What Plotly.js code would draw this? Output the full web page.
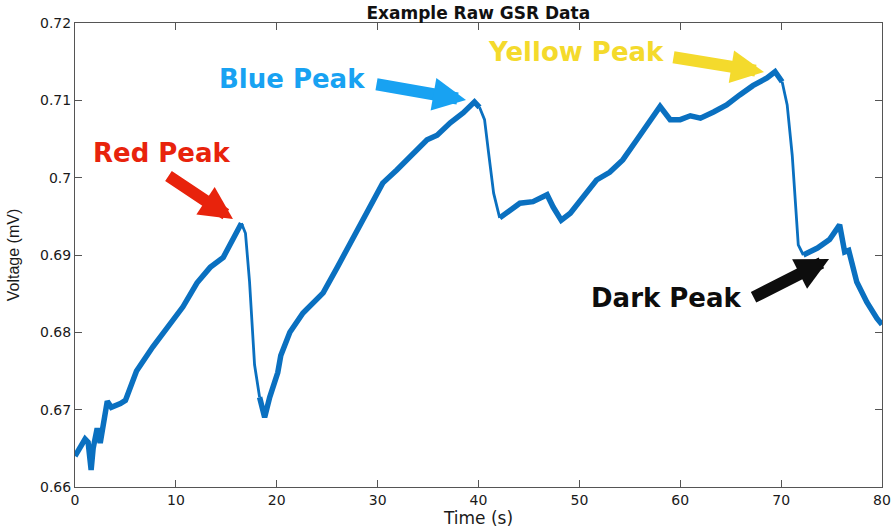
<!DOCTYPE html>
<html><head><meta charset="utf-8">
<script src="https://cdn.plot.ly/plotly-3.0.1.min.js"></script>
<style>html,body{margin:0;padding:0;background:#fff}</style>
</head><body><div id="chart" style="width:894px;height:529px"></div>
<script>
const timeS = [0, 0.5, 1.0, 1.3, 1.6, 1.8, 2.2, 2.5, 3.2, 3.6, 4.0, 4.5, 5.0, 6.1, 7.7, 9.4, 10.7, 12.1, 13.4, 14.7, 15.7, 16.5, 16.9, 17.3, 17.8, 18.3, 18.8, 19.3, 20.1, 20.4, 21.3, 22.6, 24.6, 26.0, 27.6, 29.2, 30.5, 31.9, 33.2, 34.9, 35.9, 37.2, 38.5, 39.6, 40.1, 40.6, 41.0, 41.5, 42.1, 42.8, 44.1, 45.4, 46.8, 47.4, 48.2, 49.1, 50.4, 51.7, 53.0, 54.3, 55.7, 57.0, 58.0, 59.0, 60.0, 61.0, 62.0, 63.3, 64.6, 65.9, 67.2, 68.6, 69.4, 70.1, 70.6, 71.1, 71.4, 71.7, 72.2, 73.6, 74.8, 75.8, 76.3, 76.7, 77.5, 78.5, 79.5, 80.0];
const voltageMV = [0.6640, 0.6650, 0.6662, 0.6658, 0.6622, 0.6650, 0.6676, 0.6657, 0.6711, 0.6703, 0.6705, 0.6708, 0.6712, 0.6750, 0.6781, 0.6812, 0.6833, 0.6864, 0.6884, 0.6897, 0.6922, 0.6941, 0.6928, 0.6866, 0.6758, 0.6716, 0.6690, 0.6716, 0.6748, 0.6770, 0.6800, 0.6825, 0.6851, 0.6884, 0.6923, 0.6962, 0.6993, 0.7010, 0.7027, 0.7049, 0.7055, 0.7071, 0.7084, 0.7098, 0.7091, 0.7075, 0.7032, 0.6980, 0.6948, 0.6954, 0.6967, 0.6969, 0.6978, 0.6962, 0.6945, 0.6954, 0.6975, 0.6997, 0.7007, 0.7023, 0.7049, 0.7072, 0.7092, 0.7075, 0.7075, 0.7080, 0.7077, 0.7085, 0.7094, 0.7107, 0.7119, 0.7129, 0.7137, 0.7124, 0.7094, 0.7029, 0.6965, 0.6913, 0.6900, 0.6909, 0.6920, 0.6939, 0.6904, 0.6906, 0.6865, 0.6839, 0.6818, 0.6810];
// fast-falling stretches, drawn with a thinner stroke (as in the original)
const fastDrops = [[16.5, 18.3], [40.1, 42.1], [70.1, 72.2]];

const xTickVals = [0, 10, 20, 30, 40, 50, 60, 70, 80];
const yTickVals = [0.66, 0.67, 0.68, 0.69, 0.70, 0.71, 0.72];
const yTickText = ['0.66', '0.67', '0.68', '0.69', '0.7', '0.71', '0.72'];

const peakLabels = ['Red Peak', 'Blue Peak', 'Yellow Peak', 'Dark Peak'];
const peakColors = ['#E8230C', '#18A2F2', '#F4DA2C', '#0D0D0D'];
const peakTipT = [15.66, 38.76, 68.3, 74.75];
const peakTipV = [0.69465, 0.71004, 0.71366, 0.68948];
const labelT = [8.62, 21.51, 49.67, 58.59];
const labelV = [0.70319, 0.71276, 0.71625, 0.68444];
const arrowAx = [-66, -91, -92, -77];
const arrowAy = [-44, -16, -15, 39];

const annotations = [];
peakLabels.forEach((lbl, i) => {
  annotations.push({
    x: labelT[i], y: labelV[i], xref: 'x', yref: 'y',
    text: '<b>' + lbl + '</b>', showarrow: false,
    xanchor: 'center', yanchor: 'middle',
    font: {family: 'DejaVu Sans', size: 26, color: peakColors[i]}
  });
  annotations.push({
    x: peakTipT[i], y: peakTipV[i], xref: 'x', yref: 'y',
    text: '', showarrow: true, ax: arrowAx[i], ay: arrowAy[i],
    arrowhead: 2, arrowsize: 0.55, arrowwidth: 12, arrowcolor: peakColors[i],
    standoff: 0
  });
});

const insideDrop = t => fastDrops.some(r => t > r[0] && t < r[1]);
const inDropClosed = t => fastDrops.some(r => t >= r[0] && t <= r[1]);
const thickY = voltageMV.map((v, i) => insideDrop(timeS[i]) ? null : v);
const thinY = voltageMV.map((v, i) => inDropClosed(timeS[i]) ? v : null);

const lineColor = '#0A70C0';
const traces = [
  {x: timeS, y: thinY, type: 'scatter', mode: 'lines', connectgaps: false,
   line: {color: lineColor, width: 2.8}},
  {x: timeS, y: thickY, type: 'scatter', mode: 'lines', connectgaps: false,
   line: {color: lineColor, width: 5.5}}
];

const axisCommon = {
  showgrid: false, zeroline: false, showline: true, linecolor: '#555555', linewidth: 1,
  mirror: 'allticks', ticks: 'inside', ticklen: 7, tickcolor: '#555555', tickwidth: 1,
  tickfont: {family: 'DejaVu Sans', size: 14, color: '#1a1a1a'}, automargin: false
};

const layout = {
  width: 894, height: 529,
  margin: {l: 75, r: 12, t: 23, b: 42},
  paper_bgcolor: '#ffffff', plot_bgcolor: '#ffffff',
  showlegend: false,
  title: {text: '<b>Example Raw GSR Data</b>', x: 0.535, xanchor: 'center', y: 0.976, yanchor: 'middle',
          font: {family: 'DejaVu Sans', size: 17, color: '#111111'}},
  xaxis: Object.assign({}, axisCommon, {
    range: [0, 80], tickvals: xTickVals,
    title: {text: 'Time (s)', standoff: 2, font: {family: 'DejaVu Sans', size: 17, color: '#1a1a1a'}}
  }),
  yaxis: Object.assign({}, axisCommon, {
    range: [0.66, 0.72], tickvals: yTickVals, ticktext: yTickText,
    title: {text: 'Voltage (mV)', standoff: 16, font: {family: 'Liberation Sans', size: 16, color: '#1a1a1a'}}
  }),
  annotations: annotations
};

Plotly.newPlot('chart', traces, layout, {displayModeBar: false, staticPlot: true});
</script>
</body></html>
